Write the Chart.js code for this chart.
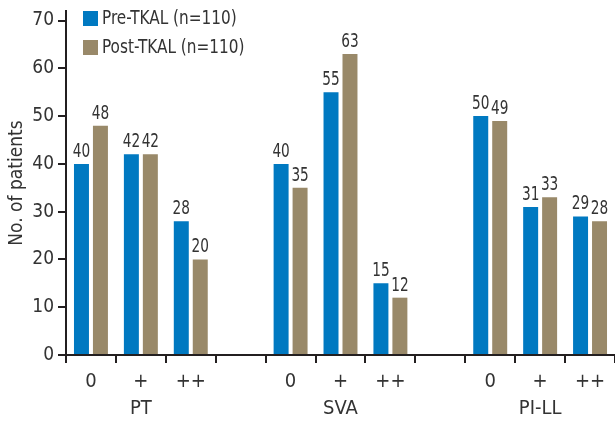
<!DOCTYPE html>
<html>
<head>
<meta charset="utf-8">
<script src="https://cdn.jsdelivr.net/npm/chart.js"></script>
<style>
  html, body { margin: 0; padding: 0; background: #fff; }
  #wrap { width: 615px; height: 422px; position: relative; }
</style>
</head>
<body>
<div id="wrap"><canvas id="chart"></canvas></div>
<script>
// categories (empty slots separate the three groups)
const categories = ['0', ['+', 'PT'], '++', '', '0', ['+', 'SVA'], '++', '', '0', ['+', 'PI-LL'], '++'];
const preTkal = [40, 42, 28, null, 40, 55, 15, null, 50, 31, 29];
const postTkal = [48, 42, 20, null, 35, 63, 12, null, 49, 33, 28];
const seriesNames = ['Pre-TKAL (n=110)', 'Post-TKAL (n=110)'];
const yTicks = [0, 10, 20, 30, 40, 50, 60, 70];

const FONT = "'Liberation Sans Narrow', 'DejaVu Sans Condensed', 'Roboto', sans-serif";
const INK = '#333333';
const AXIS = '#231f20';

Chart.defaults.font.family = FONT;
Chart.defaults.color = INK;

// narrow text: the source face is a condensed one
function narrowText(ctx, s, x, y, sx) {
  ctx.save();
  ctx.translate(x, y);
  ctx.scale(sx, 1);
  ctx.fillText(s, 0, 0);
  ctx.restore();
}

// value above each bar
const valueLabels = {
  id: 'valueLabels',
  afterDatasetsDraw(chart) {
    const ctx = chart.ctx;
    ctx.save();
    ctx.font = '19px ' + FONT;
    ctx.fillStyle = INK;
    ctx.textAlign = 'center';
    ctx.textBaseline = 'alphabetic';
    chart.data.datasets.forEach((ds, i) => {
      chart.getDatasetMeta(i).data.forEach((bar, j) => {
        const v = ds.data[j];
        if (v == null) return;
        narrowText(ctx, String(v), bar.x, bar.y - 7, 0.8);
      });
    });
    ctx.restore();
  }
};

// legend stacked in the top-left corner of the plot
const cornerLegend = {
  id: 'cornerLegend',
  afterDraw(chart) {
    const ctx = chart.ctx;
    ctx.save();
    ctx.font = '20px ' + FONT;
    ctx.textBaseline = 'middle';
    ctx.textAlign = 'left';
    chart.data.datasets.forEach((ds, i) => {
      const x = 83, y = 11 + i * 29;
      ctx.fillStyle = ds.backgroundColor;
      ctx.fillRect(x, y, 15, 15);
      ctx.fillStyle = INK;
      narrowText(ctx, ds.label, x + 19, y + 8, 0.85);
    });
    ctx.restore();
  }
};

new Chart(document.getElementById('chart'), {
  type: 'bar',
  data: {
    labels: categories,
    datasets: [
      {label: seriesNames[0], data: preTkal, backgroundColor: '#0079c1',
       categoryPercentage: 0.76, barPercentage: 0.79},
      {label: seriesNames[1], data: postTkal, backgroundColor: '#998969',
       categoryPercentage: 0.76, barPercentage: 0.79}
    ]
  },
  options: {
    responsive: true,
    maintainAspectRatio: false,
    animation: false,
    layout: {padding: {top: 11, right: 0, left: 0, bottom: 0}},
    plugins: {legend: {display: false}, tooltip: {enabled: false}},
    scales: {
      x: {
        offset: true,
        grid: {display: true, offset: true, drawOnChartArea: false, drawTicks: true,
               tickLength: 8, color: AXIS, lineWidth: 2},
        border: {display: true, color: AXIS, width: 2},
        ticks: {font: {size: 20, lineHeight: 1.35}, color: INK, padding: 5,
                maxRotation: 0, autoSkip: false},
        afterFit(s) { s.height = 67; s.paddingLeft = 0; s.paddingRight = 0; }
      },
      y: {
        min: 0,
        max: 72,
        grid: {display: true, drawOnChartArea: false, drawTicks: true,
               tickLength: 8, color: AXIS, lineWidth: 2},
        border: {display: true, color: AXIS, width: 2},
        ticks: {stepSize: 10, includeBounds: false, font: {size: 19}, color: INK, padding: 4},
        afterBuildTicks(s) { s.ticks = yTicks.map(v => ({value: v})); },
        title: {display: true, text: 'No. of patients', font: {size: 19},
                color: INK, padding: {top: 6, bottom: 0}},
        afterFit(s) { s.width = 66; s.paddingTop = 0; s.paddingBottom = 0; }
      }
    }
  },
  plugins: [valueLabels, cornerLegend]
});
</script>
</body>
</html>
